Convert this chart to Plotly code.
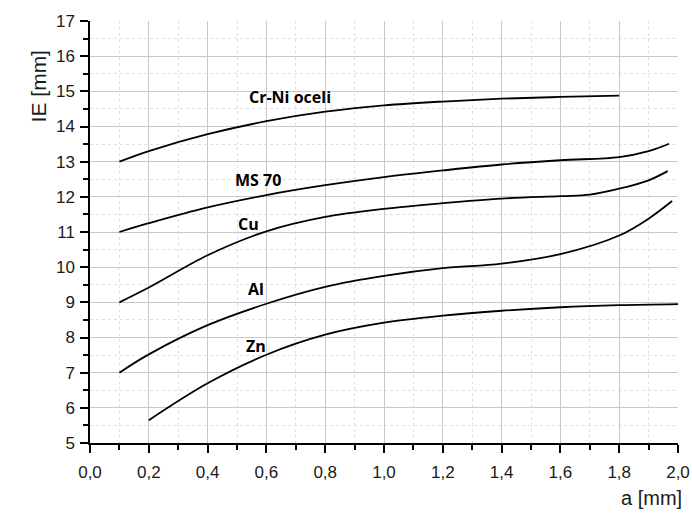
import plotly.graph_objects as go

# Data
crni_x = [0.1, 0.2, 0.4, 0.6, 0.8, 1.0, 1.2, 1.4, 1.6, 1.8]
crni_y = [13.0, 13.3, 13.78, 14.15, 14.42, 14.6, 14.71, 14.79, 14.84, 14.88]

ms70_x = [0.1, 0.2, 0.4, 0.6, 0.8, 1.0, 1.2, 1.4, 1.6, 1.8, 1.9, 1.97]
ms70_y = [11.0, 11.25, 11.7, 12.05, 12.33, 12.56, 12.75, 12.92, 13.04, 13.13, 13.3, 13.51]

cu_x = [0.1, 0.2, 0.4, 0.6, 0.8, 1.0, 1.2, 1.4, 1.6, 1.7, 1.8, 1.9, 1.965]
cu_y = [9.0, 9.42, 10.34, 11.02, 11.43, 11.66, 11.82, 11.95, 12.02, 12.06, 12.23, 12.47, 12.73]

al_x = [0.1, 0.2, 0.4, 0.6, 0.8, 1.0, 1.2, 1.4, 1.6, 1.8, 1.9, 1.98]
al_y = [7.0, 7.52, 8.35, 8.96, 9.44, 9.75, 9.97, 10.1, 10.37, 10.9, 11.38, 11.88]

zn_x = [0.2, 0.4, 0.6, 0.8, 1.0, 1.2, 1.4, 1.6, 1.8, 2.0]
zn_y = [5.65, 6.7, 7.51, 8.08, 8.42, 8.62, 8.76, 8.86, 8.92, 8.95]

names = ["Cr-Ni oceli", "MS 70", "Cu", "Al", "Zn"]
label_x = [0.68, 0.57, 0.54, 0.566, 0.566]
label_y = [14.83, 12.49, 11.22, 9.37, 7.75]

xs_all = [crni_x, ms70_x, cu_x, al_x, zn_x]
ys_all = [crni_y, ms70_y, cu_y, al_y, zn_y]

TICKFONT = dict(family="Liberation Sans, Arial, sans-serif", size=17, color="#1a1a1a")

fig = go.Figure()
for xs, ys, name, lx, ly in zip(xs_all, ys_all, names, label_x, label_y):
    fig.add_trace(go.Scatter(x=xs, y=ys, mode="lines", name=name,
                             line=dict(color="black", width=1.8, shape="spline", smoothing=1.0)))
    fig.add_annotation(x=lx, y=ly, text="<b>" + name + "</b>", showarrow=False,
                       font=dict(family="Open Sans, Liberation Sans, sans-serif", size=16, color="black"))

axis_common = dict(
    showline=True, linecolor="black", linewidth=1.5,
    ticks="outside", ticklen=8, tickwidth=1.5, tickcolor="black",
    showgrid=True, gridcolor="#c8c8c8", gridwidth=1,
    zeroline=False, mirror=False, automargin=False,
    tickfont=TICKFONT,
)

fig.update_xaxes(range=[0, 2.0], dtick=0.2, tick0=0, tickformat=".1f", ticklabelstandoff=5,
                 minor=dict(dtick=0.1, ticklen=5, tickwidth=1.5, tickcolor="black",
                            showgrid=True, gridcolor="#e0e0e0", griddash="dot", ticks="outside"),
                 **axis_common)
fig.update_yaxes(range=[5, 17], dtick=1, tick0=5, ticklabelstandoff=2,
                 minor=dict(dtick=0.5, ticklen=5, tickwidth=1.5, tickcolor="black",
                            showgrid=True, gridcolor="#e0e0e0", griddash="dot", ticks="outside"),
                 **axis_common)

fig.add_annotation(xref="paper", yref="paper", x=-0.1105, y=0.934, text="IE [mm]", showarrow=False,
                   textangle=-90, font=dict(family="Liberation Sans, Arial, sans-serif", size=21, color="#1a1a1a"))
fig.add_annotation(xref="paper", yref="paper", x=1.011, y=-0.16, xanchor="right", text="a [mm]",
                   showarrow=False, font=dict(family="Liberation Sans, Arial, sans-serif", size=20, color="#1a1a1a"))

fig.update_layout(
    width=692, height=514,
    margin=dict(l=90, r=14, t=21, b=71, autoexpand=False),
    paper_bgcolor="white", plot_bgcolor="white",
    showlegend=False,
    separators=", ",
)

# remove the default page margin so the figure fills the 692x514 window exactly
fig.write_html("out.html",
               config={"displayModeBar": False},
               post_script="document.body.style.margin='0';document.body.style.overflow='hidden';")
